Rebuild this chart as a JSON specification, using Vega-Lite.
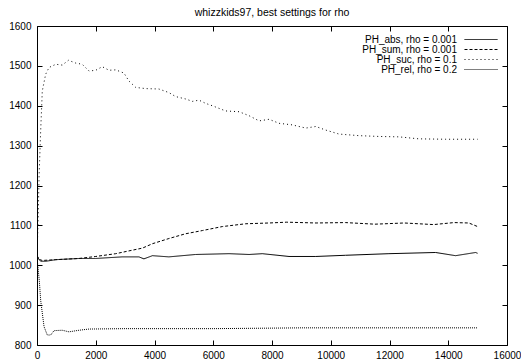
{
  "$schema": "https://vega.github.io/schema/vega-lite/v6.json",
  "width": 470,
  "height": 319,
  "autosize": "none",
  "padding": {"left": 37, "top": 26, "right": 14, "bottom": 19},
  "background": "#ffffff",
  "title": {"text": "whizzkids97, best settings for rho", "fontSize": 10.5, "fontWeight": "normal", "font": "Liberation Sans", "color": "#000000", "offset": 3, "anchor": "middle"},
  "config": {
    "font": "Liberation Sans",
    "view": {"stroke": "#000000", "strokeWidth": 1},
    "axis": {"domain": false, "grid": false, "ticks": true, "tickSize": 5, "offset": -5, "zindex": 1, "tickColor": "#000000", "tickWidth": 1, "tickOpacity": 1, "labelFont": "Liberation Sans", "labelFontSize": 10, "labelColor": "#000000", "labelFlush": false, "labelOverlap": false, "title": null}
  },
  "data": {"values": [
    {"series": "PH_abs, rho = 0.001", "x": 0, "y": 1025},
    {"series": "PH_abs, rho = 0.001", "x": 60, "y": 1015},
    {"series": "PH_abs, rho = 0.001", "x": 125, "y": 1010},
    {"series": "PH_abs, rho = 0.001", "x": 300, "y": 1010},
    {"series": "PH_abs, rho = 0.001", "x": 640, "y": 1014},
    {"series": "PH_abs, rho = 0.001", "x": 1430, "y": 1017},
    {"series": "PH_abs, rho = 0.001", "x": 2000, "y": 1017},
    {"series": "PH_abs, rho = 0.001", "x": 2900, "y": 1021},
    {"series": "PH_abs, rho = 0.001", "x": 3470, "y": 1021},
    {"series": "PH_abs, rho = 0.001", "x": 3640, "y": 1016},
    {"series": "PH_abs, rho = 0.001", "x": 3930, "y": 1024},
    {"series": "PH_abs, rho = 0.001", "x": 4490, "y": 1021},
    {"series": "PH_abs, rho = 0.001", "x": 5400, "y": 1027},
    {"series": "PH_abs, rho = 0.001", "x": 6540, "y": 1029},
    {"series": "PH_abs, rho = 0.001", "x": 7220, "y": 1027},
    {"series": "PH_abs, rho = 0.001", "x": 7670, "y": 1029},
    {"series": "PH_abs, rho = 0.001", "x": 8580, "y": 1022},
    {"series": "PH_abs, rho = 0.001", "x": 9490, "y": 1022},
    {"series": "PH_abs, rho = 0.001", "x": 10500, "y": 1025},
    {"series": "PH_abs, rho = 0.001", "x": 11980, "y": 1029},
    {"series": "PH_abs, rho = 0.001", "x": 13570, "y": 1032},
    {"series": "PH_abs, rho = 0.001", "x": 14250, "y": 1024},
    {"series": "PH_abs, rho = 0.001", "x": 14930, "y": 1032},
    {"series": "PH_abs, rho = 0.001", "x": 15000, "y": 1030},
    {"series": "PH_sum, rho = 0.001", "x": 0, "y": 1025},
    {"series": "PH_sum, rho = 0.001", "x": 60, "y": 1015},
    {"series": "PH_sum, rho = 0.001", "x": 180, "y": 1012},
    {"series": "PH_sum, rho = 0.001", "x": 640, "y": 1014},
    {"series": "PH_sum, rho = 0.001", "x": 1430, "y": 1017},
    {"series": "PH_sum, rho = 0.001", "x": 2000, "y": 1022},
    {"series": "PH_sum, rho = 0.001", "x": 2680, "y": 1029},
    {"series": "PH_sum, rho = 0.001", "x": 3130, "y": 1036},
    {"series": "PH_sum, rho = 0.001", "x": 3590, "y": 1043},
    {"series": "PH_sum, rho = 0.001", "x": 3930, "y": 1054},
    {"series": "PH_sum, rho = 0.001", "x": 4490, "y": 1067},
    {"series": "PH_sum, rho = 0.001", "x": 5060, "y": 1079},
    {"series": "PH_sum, rho = 0.001", "x": 5630, "y": 1087},
    {"series": "PH_sum, rho = 0.001", "x": 6310, "y": 1097},
    {"series": "PH_sum, rho = 0.001", "x": 7100, "y": 1104},
    {"series": "PH_sum, rho = 0.001", "x": 7900, "y": 1106},
    {"series": "PH_sum, rho = 0.001", "x": 8500, "y": 1108},
    {"series": "PH_sum, rho = 0.001", "x": 9500, "y": 1106},
    {"series": "PH_sum, rho = 0.001", "x": 10500, "y": 1107},
    {"series": "PH_sum, rho = 0.001", "x": 11500, "y": 1103},
    {"series": "PH_sum, rho = 0.001", "x": 12500, "y": 1106},
    {"series": "PH_sum, rho = 0.001", "x": 13500, "y": 1102},
    {"series": "PH_sum, rho = 0.001", "x": 14200, "y": 1107},
    {"series": "PH_sum, rho = 0.001", "x": 14700, "y": 1106},
    {"series": "PH_sum, rho = 0.001", "x": 15000, "y": 1097},
    {"series": "PH_suc, rho = 0.1", "x": 0, "y": 1020},
    {"series": "PH_suc, rho = 0.1", "x": 40, "y": 1120},
    {"series": "PH_suc, rho = 0.1", "x": 70, "y": 1221},
    {"series": "PH_suc, rho = 0.1", "x": 125, "y": 1337},
    {"series": "PH_suc, rho = 0.1", "x": 180, "y": 1437},
    {"series": "PH_suc, rho = 0.1", "x": 295, "y": 1479},
    {"series": "PH_suc, rho = 0.1", "x": 410, "y": 1496},
    {"series": "PH_suc, rho = 0.1", "x": 640, "y": 1504},
    {"series": "PH_suc, rho = 0.1", "x": 860, "y": 1502},
    {"series": "PH_suc, rho = 0.1", "x": 1070, "y": 1514},
    {"series": "PH_suc, rho = 0.1", "x": 1320, "y": 1507},
    {"series": "PH_suc, rho = 0.1", "x": 1540, "y": 1504},
    {"series": "PH_suc, rho = 0.1", "x": 1770, "y": 1487},
    {"series": "PH_suc, rho = 0.1", "x": 2000, "y": 1489},
    {"series": "PH_suc, rho = 0.1", "x": 2220, "y": 1498},
    {"series": "PH_suc, rho = 0.1", "x": 2450, "y": 1489},
    {"series": "PH_suc, rho = 0.1", "x": 2680, "y": 1490},
    {"series": "PH_suc, rho = 0.1", "x": 2960, "y": 1482},
    {"series": "PH_suc, rho = 0.1", "x": 3130, "y": 1462},
    {"series": "PH_suc, rho = 0.1", "x": 3360, "y": 1446},
    {"series": "PH_suc, rho = 0.1", "x": 3700, "y": 1443},
    {"series": "PH_suc, rho = 0.1", "x": 4150, "y": 1442},
    {"series": "PH_suc, rho = 0.1", "x": 4490, "y": 1433},
    {"series": "PH_suc, rho = 0.1", "x": 4720, "y": 1423},
    {"series": "PH_suc, rho = 0.1", "x": 5060, "y": 1417},
    {"series": "PH_suc, rho = 0.1", "x": 5290, "y": 1411},
    {"series": "PH_suc, rho = 0.1", "x": 5515, "y": 1414},
    {"series": "PH_suc, rho = 0.1", "x": 5740, "y": 1406},
    {"series": "PH_suc, rho = 0.1", "x": 5970, "y": 1400},
    {"series": "PH_suc, rho = 0.1", "x": 6420, "y": 1387},
    {"series": "PH_suc, rho = 0.1", "x": 6880, "y": 1385},
    {"series": "PH_suc, rho = 0.1", "x": 7220, "y": 1375},
    {"series": "PH_suc, rho = 0.1", "x": 7560, "y": 1362},
    {"series": "PH_suc, rho = 0.1", "x": 7900, "y": 1366},
    {"series": "PH_suc, rho = 0.1", "x": 8240, "y": 1356},
    {"series": "PH_suc, rho = 0.1", "x": 8690, "y": 1352},
    {"series": "PH_suc, rho = 0.1", "x": 9150, "y": 1344},
    {"series": "PH_suc, rho = 0.1", "x": 9490, "y": 1348},
    {"series": "PH_suc, rho = 0.1", "x": 9830, "y": 1339},
    {"series": "PH_suc, rho = 0.1", "x": 10280, "y": 1329},
    {"series": "PH_suc, rho = 0.1", "x": 10960, "y": 1325},
    {"series": "PH_suc, rho = 0.1", "x": 11640, "y": 1323},
    {"series": "PH_suc, rho = 0.1", "x": 12320, "y": 1322},
    {"series": "PH_suc, rho = 0.1", "x": 13000, "y": 1317},
    {"series": "PH_suc, rho = 0.1", "x": 13900, "y": 1316},
    {"series": "PH_suc, rho = 0.1", "x": 15000, "y": 1316},
    {"series": "PH_rel, rho = 0.2", "x": 0, "y": 1020},
    {"series": "PH_rel, rho = 0.2", "x": 40, "y": 990},
    {"series": "PH_rel, rho = 0.2", "x": 80, "y": 960},
    {"series": "PH_rel, rho = 0.2", "x": 125, "y": 912},
    {"series": "PH_rel, rho = 0.2", "x": 240, "y": 846},
    {"series": "PH_rel, rho = 0.2", "x": 350, "y": 825},
    {"series": "PH_rel, rho = 0.2", "x": 465, "y": 825},
    {"series": "PH_rel, rho = 0.2", "x": 580, "y": 836},
    {"series": "PH_rel, rho = 0.2", "x": 860, "y": 837},
    {"series": "PH_rel, rho = 0.2", "x": 1090, "y": 833},
    {"series": "PH_rel, rho = 0.2", "x": 1430, "y": 837},
    {"series": "PH_rel, rho = 0.2", "x": 1770, "y": 840},
    {"series": "PH_rel, rho = 0.2", "x": 3000, "y": 841},
    {"series": "PH_rel, rho = 0.2", "x": 6000, "y": 841},
    {"series": "PH_rel, rho = 0.2", "x": 9000, "y": 843},
    {"series": "PH_rel, rho = 0.2", "x": 12000, "y": 843},
    {"series": "PH_rel, rho = 0.2", "x": 15000, "y": 843}
  ]},
  "layer": [
    {
      "mark": {"type": "line", "strokeWidth": 1, "color": "#000000", "clip": true},
      "encoding": {
        "x": {"field": "x", "type": "quantitative", "scale": {"domain": [0, 16000], "nice": false, "zero": false}, "axis": {"orient": "bottom", "ticks": true, "tickSize": 5, "values": [0, 2000, 4000, 6000, 8000, 10000, 12000, 14000, 16000], "labelPadding": 5, "format": "d"}},
        "y": {"field": "y", "type": "quantitative", "scale": {"domain": [800, 1600], "nice": false, "zero": false}, "axis": {"orient": "left", "ticks": true, "tickSize": 5, "values": [800, 900, 1000, 1100, 1200, 1300, 1400, 1500, 1600], "labelPadding": 6, "format": "d"}},
        "strokeDash": {"field": "series", "type": "nominal",
          "scale": {"domain": ["PH_abs, rho = 0.001", "PH_sum, rho = 0.001", "PH_suc, rho = 0.1", "PH_rel, rho = 0.2"], "range": [[1, 0], [3, 2], [1, 3], [1, 1]]},
          "legend": {"orient": "none", "legendX": 426, "legendY": 8.5, "title": null, "symbolType": "M-16.5,0H16.5", "symbolSize": 4, "symbolOffset": 13, "symbolStrokeWidth": 1, "symbolStrokeColor": "#000000", "labelAlign": "right", "labelOffset": -29, "labelFont": "Liberation Sans", "labelFontSize": 10, "labelColor": "#000000", "rowPadding": 0, "padding": 0, "labelLimit": 300}
        }
      }
    },
    {
      "mark": {"type": "line", "opacity": 0},
      "encoding": {
        "x": {"field": "x", "type": "quantitative", "axis": {"orient": "top", "labels": false, "ticks": true, "tickSize": 5, "values": [0, 2000, 4000, 6000, 8000, 10000, 12000, 14000, 16000]}},
        "y": {"field": "y", "type": "quantitative", "axis": {"orient": "right", "labels": false, "ticks": true, "tickSize": 5, "values": [800, 900, 1000, 1100, 1200, 1300, 1400, 1500, 1600]}},
        "detail": {"field": "series"}
      }
    }
  ],
  "resolve": {"axis": {"x": "independent", "y": "independent"}}
}
